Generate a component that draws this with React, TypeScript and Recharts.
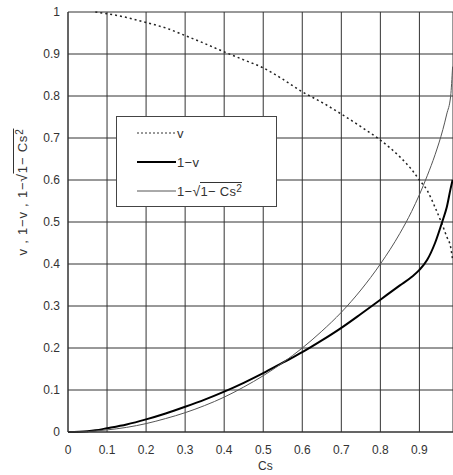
import React from 'react';
import { LineChart, Line, XAxis, YAxis, CartesianGrid } from 'recharts';

// Cs grid the curves were read on
const cs = [0, 0.05, 0.07, 0.1, 0.15, 0.2, 0.25, 0.3, 0.35, 0.4, 0.45, 0.5, 0.55, 0.6, 0.65, 0.7, 0.75, 0.8, 0.85, 0.88, 0.9, 0.92, 0.94, 0.96, 0.97, 0.98, 0.985];
const vVals = [null, null, 1.0, 0.996, 0.987, 0.975, 0.962, 0.944, 0.925, 0.905, 0.886, 0.867, 0.84, 0.81, 0.785, 0.757, 0.727, 0.695, 0.655, 0.625, 0.6, 0.575, 0.535, 0.49, 0.465, 0.44, 0.41];
const oneMinusV = [0, 0.002, 0.004, 0.009, 0.018, 0.03, 0.044, 0.06, 0.077, 0.096, 0.117, 0.14, 0.165, 0.19, 0.218, 0.248, 0.281, 0.315, 0.349, 0.369, 0.386, 0.41, 0.45, 0.505, 0.535, 0.58, 0.6];
const oneMinusRoot = [0, 0.001, 0.0025, 0.005, 0.011, 0.02, 0.032, 0.046, 0.063, 0.083, 0.107, 0.134, 0.165, 0.2, 0.24, 0.285, 0.338, 0.4, 0.473, 0.525, 0.565, 0.61, 0.66, 0.72, 0.757, 0.8, 0.87];

const xTicks = [0, 0.1, 0.2, 0.3, 0.4, 0.5, 0.6, 0.7, 0.8, 0.9];
const yTicks = [0, 0.1, 0.2, 0.3, 0.4, 0.5, 0.6, 0.7, 0.8, 0.9, 1];

const data = cs.map((x, i) => ({ x, v: vVals[i], a: oneMinusV[i], b: oneMinusRoot[i] }));

const FONT = '"Liberation Sans", Arial, sans-serif';
const tickStyle = { fontSize: 12, fill: '#333', fontFamily: FONT };

const Root = () => (
  <span style={{ whiteSpace: 'nowrap' }}>
    1−<span style={{ fontSize: 14 }}>√</span>
    <span style={{ borderTop: '1px solid #333', paddingTop: 1 }}>
      1− Cs<sup style={{ fontSize: 10, verticalAlign: 4 }}>2</sup>
    </span>
  </span>
);

const LegendBox = () => {
  const row = (dash: string | undefined, w: number, color: string, label: React.ReactNode, top: number) => (
    <div style={{ position: 'absolute', left: 20, top, display: 'flex', alignItems: 'center', height: 14 }}>
      <svg width={39} height={6}>
        <line x1={0} y1={3} x2={39} y2={3} stroke={color} strokeWidth={w} strokeDasharray={dash} />
      </svg>
      <span style={{ marginLeft: 1, fontSize: 13, color: '#333', fontFamily: FONT, letterSpacing: 0.3 }}>{label}</span>
    </div>
  );
  return (
    <div style={{ position: 'absolute', left: 116, top: 116, width: 161, height: 91, border: '1px solid #444', background: '#fff', boxSizing: 'border-box' }}>
      {row('2 2', 1, '#333', 'v', 9)}
      {row(undefined, 2, '#000', '1−v', 38)}
      {row(undefined, 1, '#555', <Root />, 67)}
    </div>
  );
};

export default function App() {
  return (
    <div style={{ position: 'absolute', left: 0, top: 0, width: 453, height: 475, background: '#fff', overflow: 'hidden' }}>
      <LineChart width={453} height={475} data={data} margin={{ top: 12, right: 0, bottom: 13, left: 0 }}>
        <CartesianGrid stroke="#333" strokeWidth={1} />
        <XAxis
          dataKey="x"
          type="number"
          domain={[0, 0.986]}
          allowDataOverflow
          ticks={xTicks}
          tickLine={false}
          tickMargin={7}
          height={30}
          stroke="#333"
          tick={tickStyle}
        />
        <YAxis
          type="number"
          domain={[0, 1]}
          ticks={yTicks}
          tickLine={false}
          width={68}
          stroke="#333"
          tick={tickStyle}
        />
        <Line dataKey="v" type="monotone" stroke="#222" strokeWidth={1.5} strokeDasharray="2 3" dot={false} isAnimationActive={false} connectNulls={false} />
        <Line dataKey="a" type="monotone" stroke="#000" strokeWidth={2} dot={false} isAnimationActive={false} />
        <Line dataKey="b" type="monotone" stroke="#555" strokeWidth={1} dot={false} isAnimationActive={false} />
      </LineChart>
      <LegendBox />
      <div style={{ position: 'absolute', left: 258, top: 459, fontSize: 12, color: '#333', fontFamily: FONT }}>Cs</div>
      <div
        style={{
          position: 'absolute',
          left: 22,
          top: 192,
          transform: 'translate(-50%, -50%) rotate(-90deg)',
          fontSize: 13,
          letterSpacing: 0.8,
          color: '#333',
          fontFamily: FONT,
          whiteSpace: 'nowrap',
        }}
      >
        v , 1−v , <Root />
      </div>
    </div>
  );
}
